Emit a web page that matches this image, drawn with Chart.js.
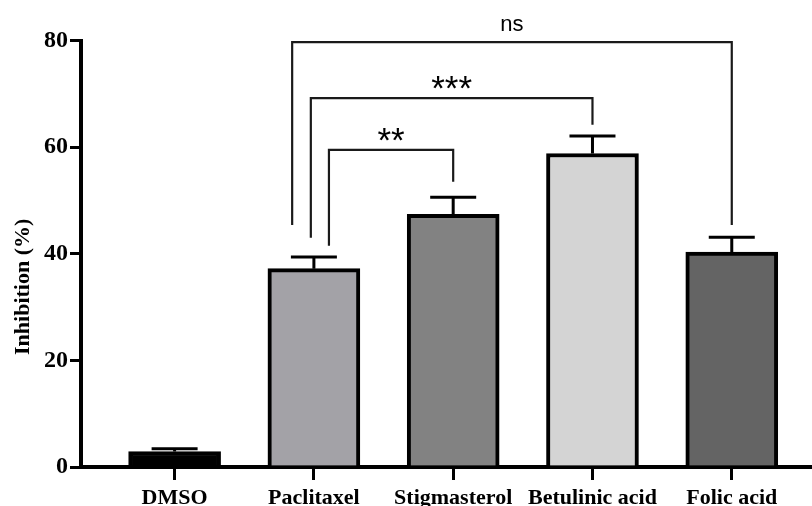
<!DOCTYPE html>
<html>
<head>
<meta charset="utf-8">
<script src="https://cdn.jsdelivr.net/npm/chart.js@4.4.1/dist/chart.umd.min.js"></script>
<style>
  html, body { margin: 0; padding: 0; background: #fff; }
  #wrap { width: 812px; height: 506px; position: relative; }
</style>
</head>
<body>
<div id="wrap"><canvas id="chartInhibition"></canvas></div>
<script>
// data
const categories = ["DMSO", "Paclitaxel", "Stigmasterol", "Betulinic acid", "Folic acid"];
const inhibition = [2.9, 37.2, 47.4, 58.8, 40.3];
const errUpper = [0.5, 2.2, 3.2, 3.3, 2.8];
const barColors = ["#000000", "#a3a2a7", "#828282", "#d4d4d4", "#646464"];
const yTicks = [0, 20, 40, 60, 80];
const yTitle = "Inhibition (%)";

// significance brackets: x in category units, y in %
const bracketNs = { x: [0.844, 0.844, 4, 4], y: [45.4, 79.7, 79.7, 45.4], label: "ns" };
const bracket3 = { x: [0.978, 0.978, 3, 3], y: [43.0, 69.2, 69.2, 64.2], label: "***" };
const bracket2 = { x: [1.108, 1.108, 2, 2], y: [41.5, 59.5, 59.5, 53.5], label: "**" };
const brackets = [bracketNs, bracket3, bracket2];

const serifFamily = "'Liberation Serif', 'Times New Roman', serif";

// error bars (upper only), bracket labels, y title
const extrasPlugin = {
    id: "extras",
    afterDatasetsDraw(chart) {
        const ctx = chart.ctx;
        const xs = chart.scales.x, ys = chart.scales.y;
        ctx.save();
        ctx.strokeStyle = "#000";
        ctx.lineWidth = 3;
        inhibition.forEach((v, i) => {
            const x = xs.getPixelForValue(i);
            const y0 = ys.getPixelForValue(v);
            const y1 = ys.getPixelForValue(v + errUpper[i]);
            ctx.beginPath();
            ctx.moveTo(x, y0);
            ctx.lineTo(x, y1);
            ctx.moveTo(x - 23, y1);
            ctx.lineTo(x + 23, y1);
            ctx.stroke();
        });

        ctx.fillStyle = "#000";
        ctx.textAlign = "center";
        ctx.textBaseline = "alphabetic";
        brackets.forEach(b => {
            const cx = (xs.getPixelForValue(b.x[1]) + xs.getPixelForValue(b.x[2])) / 2;
            const top = ys.getPixelForValue(b.y[1]);
            if (b.label === "ns") {
                ctx.font = "22px 'Liberation Sans', Arial, sans-serif";
                ctx.fillText(b.label, cx, top - 11);
            } else {
                ctx.font = "35px 'Liberation Sans', Arial, sans-serif";
                ctx.fillText(b.label, cx, top + 2);
            }
        });

        // y axis title, sits a bit below the middle like the original
        ctx.font = "bold 22px " + serifFamily;
        ctx.textBaseline = "middle";
        ctx.translate(23, ys.getPixelForValue(33.8));
        ctx.rotate(-Math.PI / 2);
        ctx.fillText(yTitle, 0, 0);
        ctx.restore();
    }
};

const barData = inhibition.map((v, i) => ({ x: i, y: v }));

const bracketSets = brackets.map(b => ({
    type: "line",
    data: b.x.map((x, i) => ({ x: x, y: b.y[i] })),
    borderColor: "#1a1a1a",
    borderWidth: 2.2,
    pointRadius: 0,
    fill: false,
    tension: 0
}));

new Chart(document.getElementById("chartInhibition"), {
    type: "bar",
    data: {
        datasets: [{
            data: barData,
            backgroundColor: barColors,
            borderColor: "#000",
            borderWidth: 4,
            borderSkipped: "start",
            barThickness: 92
        }].concat(bracketSets)
    },
    options: {
        responsive: true,
        maintainAspectRatio: false,
        animation: false,
        layout: { padding: { top: 40.5, right: 0, left: 0, bottom: 0 } },
        plugins: { legend: { display: false }, tooltip: { enabled: false } },
        scales: {
            x: {
                type: "linear",
                min: -0.672,
                max: 4.576,
                offset: false,
                afterFit: scale => { scale.height = 39; },
                grid: { offset: false, drawOnChartArea: false, drawTicks: true, tickLength: 13, lineWidth: 3, color: "#000" },
                border: { display: true, color: "#000", width: 4 },
                ticks: {
                    stepSize: 1,
                    includeBounds: false,
                    autoSkip: false,
                    maxRotation: 0,
                    padding: 5,
                    color: "#000",
                    font: { family: serifFamily, weight: "bold", size: 22 },
                    callback: v => (Number.isInteger(v) && categories[v] !== undefined) ? categories[v] : ""
                }
            },
            y: {
                min: 0,
                max: 80,
                afterFit: scale => { scale.width = 81; },
                afterBuildTicks: scale => { scale.ticks = yTicks.map(v => ({ value: v })); },
                grid: { drawOnChartArea: false, drawTicks: true, tickLength: 11, lineWidth: 3, color: "#000" },
                border: { display: true, color: "#000", width: 4 },
                ticks: { padding: 2, color: "#000", font: { family: serifFamily, weight: "bold", size: 24 } }
            }
        }
    },
    plugins: [extrasPlugin]
});
</script>
</body>
</html>
